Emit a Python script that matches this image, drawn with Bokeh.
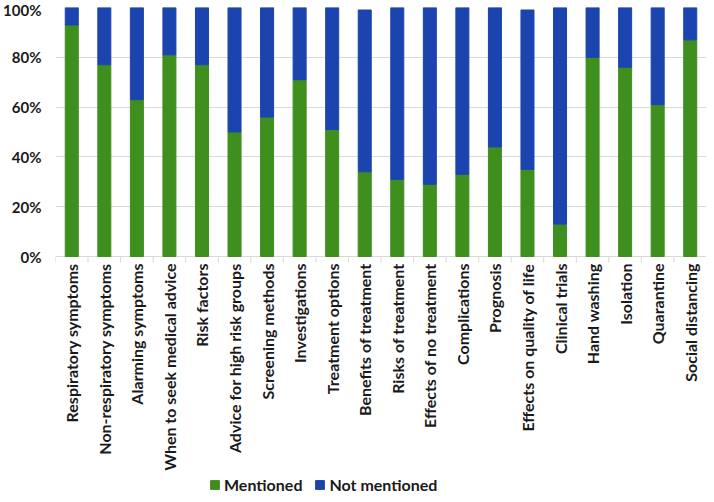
import math
from bokeh.plotting import figure
from bokeh.models import ColumnDataSource, FixedTicker, Legend, LegendItem, NumeralTickFormatter, Range1d
from bokeh.core.properties import value
from bokeh.embed import file_html
from bokeh.resources import INLINE

categories = ["Respiratory symptoms", "Non-respiratory symptoms", "Alarming symptoms",
              "When to seek medical advice", "Risk factors", "Advice for high risk groups",
              "Screening methods", "Investigations", "Treatment options", "Benefits of treatment",
              "Risks of treatment", "Effects of no treatment", "Complications", "Prognosis",
              "Effects on quality of life", "Clinical trials", "Hand washing", "Isolation",
              "Quarantine", "Social distancing"]
mentioned = [93, 77, 63, 81, 77, 50, 56, 71, 51, 34, 31, 29, 33, 44, 35, 13, 80, 76, 61, 87]
not_mentioned = [7, 23, 37, 19, 23, 50, 44, 29, 49, 65, 69, 71, 67, 56, 64, 87, 20, 24, 39, 13]
series_names = ["Mentioned", "Not mentioned"]

GREEN = "#3F8F1E"
BLUE = "#1B44AF"
GRID = "#d9d9d9"
TXT = "#1a1a1a"
FONT = "Lato"

# layout constants (pixels)
W, H = 706, 494
TOP = 7          # space above the 100% line
AXIS_Y = 256     # pixel row of the 0% line inside the figure
PX = AXIS_Y - TOP  # pixels per 100%
ymin = -(H - AXIS_Y) / PX

n = len(categories)
xs = list(range(n))
m = [v / 100 for v in mentioned]
tot = [(a + b) / 100 for a, b in zip(mentioned, not_mentioned)]
src = ColumnDataSource(dict(x=xs, m=m, tot=tot, zero=[0] * n))

p = figure(width=W, height=H, output_backend="svg", toolbar_location=None,
           x_range=Range1d(-0.5, n - 0.5), y_range=Range1d(ymin, 1),
           x_axis_location=None,
           min_border_left=53, min_border_right=0, min_border_top=TOP, min_border_bottom=0)
p.outline_line_color = None

r1 = p.vbar(x="x", bottom="zero", top="m", width=0.4, color=GREEN, source=src)
r2 = p.vbar(x="x", bottom="m", top="tot", width=0.4, color=BLUE, source=src)

# y axis
p.yaxis.ticker = FixedTicker(ticks=[0, 0.2, 0.4, 0.6, 0.8, 1.0])
p.yaxis.formatter = NumeralTickFormatter(format="0%")
p.yaxis.axis_line_color = None
p.yaxis.major_tick_line_color = None
p.yaxis.minor_tick_line_color = None
p.yaxis.major_tick_out = 0
p.yaxis.major_tick_in = 0
p.yaxis.major_label_text_font = FONT
p.yaxis.major_label_text_font_style = "bold"
p.yaxis.major_label_text_font_size = "15px"
p.yaxis.major_label_text_color = TXT
p.yaxis.major_label_standoff = 14
p.ygrid.ticker = FixedTicker(ticks=[0, 0.2, 0.4, 0.6, 0.8, 1.0])
p.ygrid.grid_line_color = GRID
p.xgrid.grid_line_color = None

# category boundary ticks below the axis
bx = [i + 0.5 for i in range(-1, n)]
p.segment(x0=bx, x1=bx, y0=[0] * len(bx), y1=[-6 / PX] * len(bx), line_color=GRID, line_width=1)

# rotated category labels
lab = ColumnDataSource(dict(x=xs, y=[-7 / PX] * n, t=categories))
p.text(x="x", y="y", text="t", source=lab, angle=math.pi / 2,
       text_align="right", text_baseline="middle",
       text_font=value(FONT), text_font_style="bold", text_font_size="16px", text_color=TXT)

legend = Legend(items=[LegendItem(label=series_names[0], renderers=[r1]),
                       LegendItem(label=series_names[1], renderers=[r2])],
                orientation="horizontal", location=(154, 0),
                label_text_font=FONT, label_text_font_style="bold", label_text_font_size="16px",
                label_text_color=TXT, glyph_width=11, glyph_height=11,
                spacing=12, padding=0, margin=0, label_standoff=4, label_height=16,
                border_line_color=None, background_fill_alpha=0)
p.add_layout(legend, "center")

open("out.html", "w").write(file_html(p, INLINE))
